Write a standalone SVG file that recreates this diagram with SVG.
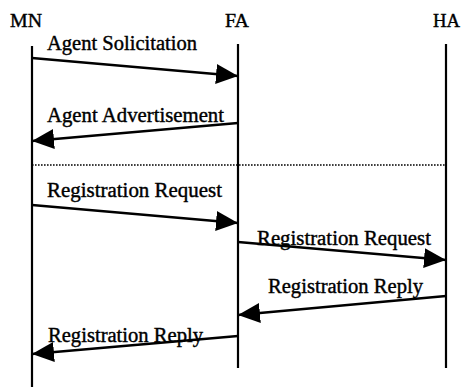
<svg xmlns="http://www.w3.org/2000/svg" width="462" height="387" viewBox="0 0 462 387">
<style>
  .life { stroke: #000; stroke-width: 2.2; fill: none; }
  .msg { stroke: #000; stroke-width: 2.6; fill: none; marker-end: url(#ah); }
  .dot { stroke: #000; stroke-width: 1.6; stroke-dasharray: 1.6 1.4; fill: none; }
  .hdr { font-family: "Liberation Serif", "Times New Roman", serif; font-size: 19px; fill: #000; stroke: #000; stroke-width: 0.4; }
  .lbl { font-family: "Liberation Serif", "Times New Roman", serif; font-size: 20px; fill: #000; stroke: #000; stroke-width: 0.4; }
</style>
<defs>
  <marker id="ah" markerUnits="userSpaceOnUse" markerWidth="24" markerHeight="22" refX="22" refY="10" orient="auto">
    <path d="M0,0 L22,10 L0,20 Z" fill="#000"/>
  </marker>
</defs>
<rect width="462" height="387" fill="#fff"/>
<g id="MN">
  <text class="hdr" x="10" y="27" textLength="32" lengthAdjust="spacingAndGlyphs">MN</text>
  <line class="life" x1="32" y1="46" x2="32" y2="387"/>
</g>
<g id="FA">
  <text class="hdr" x="225" y="27" textLength="24" lengthAdjust="spacingAndGlyphs">FA</text>
  <line class="life" x1="238" y1="44" x2="238" y2="368"/>
</g>
<g id="HA">
  <text class="hdr" x="433" y="27" textLength="27" lengthAdjust="spacingAndGlyphs">HA</text>
  <line class="life" x1="446" y1="44" x2="446" y2="368"/>
</g>
<g id="connectors">
  <line class="dot" x1="32" y1="165" x2="446" y2="165"/>
  <line class="msg" x1="32" y1="58" x2="238" y2="76"/>
  <line class="msg" x1="238" y1="123" x2="32" y2="141"/>
  <line class="msg" x1="32" y1="205" x2="238" y2="223"/>
  <line class="msg" x1="238" y1="242" x2="446" y2="260"/>
  <line class="msg" x1="446" y1="296" x2="238" y2="315"/>
  <line class="msg" x1="238" y1="336" x2="32" y2="354"/>
  <text class="lbl" x="47" y="50" textLength="150" lengthAdjust="spacingAndGlyphs">Agent Solicitation</text>
  <text class="lbl" x="47" y="122" textLength="177" lengthAdjust="spacingAndGlyphs">Agent Advertisement</text>
  <text class="lbl" x="47" y="197" textLength="175" lengthAdjust="spacingAndGlyphs">Registration Request</text>
  <text class="lbl" x="257" y="245" textLength="174" lengthAdjust="spacingAndGlyphs">Registration Request</text>
  <text class="lbl" x="268" y="293" textLength="155" lengthAdjust="spacingAndGlyphs">Registration Reply</text>
  <text class="lbl" x="48" y="342" textLength="155" lengthAdjust="spacingAndGlyphs">Registration Reply</text>
</g>
</svg>
